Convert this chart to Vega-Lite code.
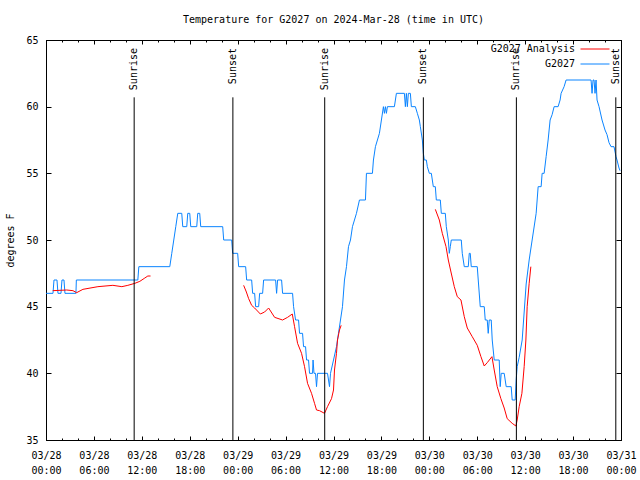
{
  "$schema": "https://vega.github.io/schema/vega-lite/v6.json",
  "width": 575,
  "height": 400,
  "autosize": {"type": "none"},
  "padding": {"left": 46, "top": 40, "right": 19, "bottom": 40},
  "background": "white",
  "config": {
    "font": "DejaVu Sans Mono",
    "view": {"stroke": "black", "strokeWidth": 1},
    "axis": {"domainColor": "black", "tickColor": "black", "labelColor": "black", "titleColor": "black", "grid": false, "labelFont": "DejaVu Sans Mono", "titleFont": "DejaVu Sans Mono", "labelFontSize": 10, "titleFontSize": 10, "titleFontWeight": "normal"},
    "legend": {"labelFont": "DejaVu Sans Mono", "labelFontSize": 10}
  },
  "title": {"text": "Temperature for G2027 on 2024-Mar-28 (time in UTC)", "font": "DejaVu Sans Mono", "fontSize": 10, "fontWeight": "normal", "anchor": "middle", "offset": 10, "color": "black"},
  "datasets": {
    "obs": [
      {"series": "G2027", "seg": "b", "h": 0, "temp": 46},
      {"series": "G2027", "seg": "b", "h": 0.875, "temp": 46},
      {"series": "G2027", "seg": "b", "h": 1, "temp": 47},
      {"series": "G2027", "seg": "b", "h": 1.375, "temp": 47},
      {"series": "G2027", "seg": "b", "h": 1.5, "temp": 46},
      {"series": "G2027", "seg": "b", "h": 1.875, "temp": 46},
      {"series": "G2027", "seg": "b", "h": 2, "temp": 47},
      {"series": "G2027", "seg": "b", "h": 2.25, "temp": 47},
      {"series": "G2027", "seg": "b", "h": 2.375, "temp": 46},
      {"series": "G2027", "seg": "b", "h": 3.75, "temp": 46},
      {"series": "G2027", "seg": "b", "h": 3.8, "temp": 47},
      {"series": "G2027", "seg": "b", "h": 11.5, "temp": 47},
      {"series": "G2027", "seg": "b", "h": 11.625, "temp": 48},
      {"series": "G2027", "seg": "b", "h": 15.5, "temp": 48},
      {"series": "G2027", "seg": "b", "h": 15.75, "temp": 49},
      {"series": "G2027", "seg": "b", "h": 16, "temp": 50},
      {"series": "G2027", "seg": "b", "h": 16.25, "temp": 51},
      {"series": "G2027", "seg": "b", "h": 16.5, "temp": 52},
      {"series": "G2027", "seg": "b", "h": 17, "temp": 52},
      {"series": "G2027", "seg": "b", "h": 17.125, "temp": 51},
      {"series": "G2027", "seg": "b", "h": 17.625, "temp": 51},
      {"series": "G2027", "seg": "b", "h": 17.75, "temp": 52},
      {"series": "G2027", "seg": "b", "h": 18, "temp": 52},
      {"series": "G2027", "seg": "b", "h": 18.125, "temp": 51},
      {"series": "G2027", "seg": "b", "h": 18.875, "temp": 51},
      {"series": "G2027", "seg": "b", "h": 19, "temp": 52},
      {"series": "G2027", "seg": "b", "h": 19.25, "temp": 52},
      {"series": "G2027", "seg": "b", "h": 19.375, "temp": 51},
      {"series": "G2027", "seg": "b", "h": 22.125, "temp": 51},
      {"series": "G2027", "seg": "b", "h": 22.25, "temp": 50},
      {"series": "G2027", "seg": "b", "h": 23.25, "temp": 50},
      {"series": "G2027", "seg": "b", "h": 23.375, "temp": 49},
      {"series": "G2027", "seg": "b", "h": 24, "temp": 49},
      {"series": "G2027", "seg": "b", "h": 24.125, "temp": 48},
      {"series": "G2027", "seg": "b", "h": 25, "temp": 48},
      {"series": "G2027", "seg": "b", "h": 25.125, "temp": 47},
      {"series": "G2027", "seg": "b", "h": 25.75, "temp": 47},
      {"series": "G2027", "seg": "b", "h": 25.875, "temp": 46},
      {"series": "G2027", "seg": "b", "h": 26.125, "temp": 46},
      {"series": "G2027", "seg": "b", "h": 26.25, "temp": 45},
      {"series": "G2027", "seg": "b", "h": 26.625, "temp": 45},
      {"series": "G2027", "seg": "b", "h": 26.75, "temp": 46},
      {"series": "G2027", "seg": "b", "h": 27.125, "temp": 46},
      {"series": "G2027", "seg": "b", "h": 27.25, "temp": 47},
      {"series": "G2027", "seg": "b", "h": 28.75, "temp": 47},
      {"series": "G2027", "seg": "b", "h": 28.875, "temp": 46},
      {"series": "G2027", "seg": "b", "h": 29, "temp": 47},
      {"series": "G2027", "seg": "b", "h": 29.5, "temp": 47},
      {"series": "G2027", "seg": "b", "h": 29.625, "temp": 46},
      {"series": "G2027", "seg": "b", "h": 30.875, "temp": 46},
      {"series": "G2027", "seg": "b", "h": 31, "temp": 45},
      {"series": "G2027", "seg": "b", "h": 31.25, "temp": 44},
      {"series": "G2027", "seg": "b", "h": 31.625, "temp": 44},
      {"series": "G2027", "seg": "b", "h": 31.75, "temp": 43},
      {"series": "G2027", "seg": "b", "h": 32.125, "temp": 43},
      {"series": "G2027", "seg": "b", "h": 32.25, "temp": 42},
      {"series": "G2027", "seg": "b", "h": 32.5, "temp": 42},
      {"series": "G2027", "seg": "b", "h": 32.625, "temp": 41},
      {"series": "G2027", "seg": "b", "h": 32.875, "temp": 41},
      {"series": "G2027", "seg": "b", "h": 33, "temp": 40},
      {"series": "G2027", "seg": "b", "h": 33.375, "temp": 40},
      {"series": "G2027", "seg": "b", "h": 33.44, "temp": 41},
      {"series": "G2027", "seg": "b", "h": 33.56, "temp": 40},
      {"series": "G2027", "seg": "b", "h": 33.75, "temp": 40},
      {"series": "G2027", "seg": "b", "h": 33.875, "temp": 39},
      {"series": "G2027", "seg": "b", "h": 34, "temp": 40},
      {"series": "G2027", "seg": "b", "h": 35.25, "temp": 40},
      {"series": "G2027", "seg": "b", "h": 35.5, "temp": 39},
      {"series": "G2027", "seg": "b", "h": 35.625, "temp": 40},
      {"series": "G2027", "seg": "b", "h": 36, "temp": 41},
      {"series": "G2027", "seg": "b", "h": 36.375, "temp": 42},
      {"series": "G2027", "seg": "b", "h": 36.625, "temp": 43},
      {"series": "G2027", "seg": "b", "h": 36.875, "temp": 44},
      {"series": "G2027", "seg": "b", "h": 37.125, "temp": 45},
      {"series": "G2027", "seg": "b", "h": 37.375, "temp": 47},
      {"series": "G2027", "seg": "b", "h": 37.625, "temp": 48},
      {"series": "G2027", "seg": "b", "h": 37.875, "temp": 49.5},
      {"series": "G2027", "seg": "b", "h": 38.125, "temp": 50},
      {"series": "G2027", "seg": "b", "h": 38.375, "temp": 51},
      {"series": "G2027", "seg": "b", "h": 38.625, "temp": 51.5},
      {"series": "G2027", "seg": "b", "h": 38.875, "temp": 52},
      {"series": "G2027", "seg": "b", "h": 39.25, "temp": 53},
      {"series": "G2027", "seg": "b", "h": 40, "temp": 53},
      {"series": "G2027", "seg": "b", "h": 40.125, "temp": 55},
      {"series": "G2027", "seg": "b", "h": 40.875, "temp": 55},
      {"series": "G2027", "seg": "b", "h": 41, "temp": 56},
      {"series": "G2027", "seg": "b", "h": 41.25, "temp": 57},
      {"series": "G2027", "seg": "b", "h": 41.5, "temp": 57.5},
      {"series": "G2027", "seg": "b", "h": 41.75, "temp": 58},
      {"series": "G2027", "seg": "b", "h": 42, "temp": 59},
      {"series": "G2027", "seg": "b", "h": 42.25, "temp": 60},
      {"series": "G2027", "seg": "b", "h": 42.375, "temp": 59.5},
      {"series": "G2027", "seg": "b", "h": 42.5, "temp": 60},
      {"series": "G2027", "seg": "b", "h": 42.625, "temp": 59.5},
      {"series": "G2027", "seg": "b", "h": 42.75, "temp": 60},
      {"series": "G2027", "seg": "b", "h": 43.625, "temp": 60},
      {"series": "G2027", "seg": "b", "h": 43.75, "temp": 60.5},
      {"series": "G2027", "seg": "b", "h": 43.875, "temp": 61},
      {"series": "G2027", "seg": "b", "h": 44.875, "temp": 61},
      {"series": "G2027", "seg": "b", "h": 45, "temp": 60},
      {"series": "G2027", "seg": "b", "h": 45.125, "temp": 61},
      {"series": "G2027", "seg": "b", "h": 45.25, "temp": 60},
      {"series": "G2027", "seg": "b", "h": 45.375, "temp": 61},
      {"series": "G2027", "seg": "b", "h": 45.625, "temp": 61},
      {"series": "G2027", "seg": "b", "h": 45.75, "temp": 60},
      {"series": "G2027", "seg": "b", "h": 46.25, "temp": 60},
      {"series": "G2027", "seg": "b", "h": 46.5, "temp": 59.5},
      {"series": "G2027", "seg": "b", "h": 46.75, "temp": 59},
      {"series": "G2027", "seg": "b", "h": 46.875, "temp": 58.5},
      {"series": "G2027", "seg": "b", "h": 47.125, "temp": 57.5},
      {"series": "G2027", "seg": "b", "h": 47.25, "temp": 56.5},
      {"series": "G2027", "seg": "b", "h": 47.375, "temp": 56},
      {"series": "G2027", "seg": "b", "h": 47.625, "temp": 56},
      {"series": "G2027", "seg": "b", "h": 47.75, "temp": 55.5},
      {"series": "G2027", "seg": "b", "h": 48, "temp": 55},
      {"series": "G2027", "seg": "b", "h": 48.25, "temp": 55},
      {"series": "G2027", "seg": "b", "h": 48.375, "temp": 54.5},
      {"series": "G2027", "seg": "b", "h": 48.5, "temp": 54},
      {"series": "G2027", "seg": "b", "h": 48.75, "temp": 54},
      {"series": "G2027", "seg": "b", "h": 48.875, "temp": 53},
      {"series": "G2027", "seg": "b", "h": 49.375, "temp": 53},
      {"series": "G2027", "seg": "b", "h": 49.5, "temp": 52},
      {"series": "G2027", "seg": "b", "h": 50, "temp": 52},
      {"series": "G2027", "seg": "b", "h": 50.125, "temp": 51},
      {"series": "G2027", "seg": "b", "h": 50.375, "temp": 50},
      {"series": "G2027", "seg": "b", "h": 50.5, "temp": 49},
      {"series": "G2027", "seg": "b", "h": 50.625, "temp": 49.5},
      {"series": "G2027", "seg": "b", "h": 50.75, "temp": 50},
      {"series": "G2027", "seg": "b", "h": 52, "temp": 50},
      {"series": "G2027", "seg": "b", "h": 52.125, "temp": 49},
      {"series": "G2027", "seg": "b", "h": 52.375, "temp": 48},
      {"series": "G2027", "seg": "b", "h": 52.875, "temp": 48},
      {"series": "G2027", "seg": "b", "h": 53, "temp": 49},
      {"series": "G2027", "seg": "b", "h": 53.125, "temp": 49},
      {"series": "G2027", "seg": "b", "h": 53.25, "temp": 48},
      {"series": "G2027", "seg": "b", "h": 54, "temp": 48},
      {"series": "G2027", "seg": "b", "h": 54.125, "temp": 47},
      {"series": "G2027", "seg": "b", "h": 54.375, "temp": 45},
      {"series": "G2027", "seg": "b", "h": 54.875, "temp": 45},
      {"series": "G2027", "seg": "b", "h": 55, "temp": 44},
      {"series": "G2027", "seg": "b", "h": 55.25, "temp": 44},
      {"series": "G2027", "seg": "b", "h": 55.375, "temp": 43},
      {"series": "G2027", "seg": "b", "h": 55.5, "temp": 44},
      {"series": "G2027", "seg": "b", "h": 55.75, "temp": 44},
      {"series": "G2027", "seg": "b", "h": 55.875, "temp": 42.5},
      {"series": "G2027", "seg": "b", "h": 56.125, "temp": 41},
      {"series": "G2027", "seg": "b", "h": 56.75, "temp": 41},
      {"series": "G2027", "seg": "b", "h": 56.875, "temp": 39},
      {"series": "G2027", "seg": "b", "h": 57, "temp": 40},
      {"series": "G2027", "seg": "b", "h": 57.375, "temp": 40},
      {"series": "G2027", "seg": "b", "h": 57.625, "temp": 39},
      {"series": "G2027", "seg": "b", "h": 58.25, "temp": 39},
      {"series": "G2027", "seg": "b", "h": 58.375, "temp": 38},
      {"series": "G2027", "seg": "b", "h": 58.75, "temp": 38},
      {"series": "G2027", "seg": "b", "h": 58.875, "temp": 39.5},
      {"series": "G2027", "seg": "b", "h": 59, "temp": 40.5},
      {"series": "G2027", "seg": "b", "h": 59.25, "temp": 41.2},
      {"series": "G2027", "seg": "b", "h": 59.625, "temp": 42.5},
      {"series": "G2027", "seg": "b", "h": 60.125, "temp": 46.7},
      {"series": "G2027", "seg": "b", "h": 60.5, "temp": 48.5},
      {"series": "G2027", "seg": "b", "h": 60.875, "temp": 50},
      {"series": "G2027", "seg": "b", "h": 61.375, "temp": 52},
      {"series": "G2027", "seg": "b", "h": 61.625, "temp": 54},
      {"series": "G2027", "seg": "b", "h": 62, "temp": 54},
      {"series": "G2027", "seg": "b", "h": 62.125, "temp": 55},
      {"series": "G2027", "seg": "b", "h": 62.375, "temp": 55},
      {"series": "G2027", "seg": "b", "h": 62.625, "temp": 56.25},
      {"series": "G2027", "seg": "b", "h": 62.875, "temp": 57.5},
      {"series": "G2027", "seg": "b", "h": 63.125, "temp": 59},
      {"series": "G2027", "seg": "b", "h": 63.375, "temp": 59.4},
      {"series": "G2027", "seg": "b", "h": 63.625, "temp": 60},
      {"series": "G2027", "seg": "b", "h": 64.125, "temp": 60},
      {"series": "G2027", "seg": "b", "h": 64.375, "temp": 60.5},
      {"series": "G2027", "seg": "b", "h": 64.5, "temp": 61},
      {"series": "G2027", "seg": "b", "h": 64.875, "temp": 61.5},
      {"series": "G2027", "seg": "b", "h": 65.125, "temp": 62},
      {"series": "G2027", "seg": "b", "h": 68.25, "temp": 62},
      {"series": "G2027", "seg": "b", "h": 68.375, "temp": 61},
      {"series": "G2027", "seg": "b", "h": 68.5, "temp": 62},
      {"series": "G2027", "seg": "b", "h": 68.625, "temp": 62},
      {"series": "G2027", "seg": "b", "h": 68.75, "temp": 61},
      {"series": "G2027", "seg": "b", "h": 68.875, "temp": 62},
      {"series": "G2027", "seg": "b", "h": 69, "temp": 60.5},
      {"series": "G2027", "seg": "b", "h": 69.25, "temp": 60},
      {"series": "G2027", "seg": "b", "h": 69.625, "temp": 59},
      {"series": "G2027", "seg": "b", "h": 70, "temp": 58.25},
      {"series": "G2027", "seg": "b", "h": 70.25, "temp": 57.9},
      {"series": "G2027", "seg": "b", "h": 70.5, "temp": 57.3},
      {"series": "G2027", "seg": "b", "h": 70.75, "temp": 57},
      {"series": "G2027", "seg": "b", "h": 71.125, "temp": 57},
      {"series": "G2027", "seg": "b", "h": 71.375, "temp": 56.25},
      {"series": "G2027", "seg": "b", "h": 71.5, "temp": 56},
      {"series": "G2027", "seg": "b", "h": 71.75, "temp": 55.4},
      {"series": "G2027", "seg": "b", "h": 71.875, "temp": 55.2},

      {"series": "G2027 Analysis", "seg": "r1", "h": 0.84, "temp": 46.2},
      {"series": "G2027 Analysis", "seg": "r1", "h": 2.59, "temp": 46.25},
      {"series": "G2027 Analysis", "seg": "r1", "h": 3.375, "temp": 46.2},
      {"series": "G2027 Analysis", "seg": "r1", "h": 3.84, "temp": 46.05},
      {"series": "G2027 Analysis", "seg": "r1", "h": 4.625, "temp": 46.3},
      {"series": "G2027 Analysis", "seg": "r1", "h": 6.5, "temp": 46.5},
      {"series": "G2027 Analysis", "seg": "r1", "h": 8.375, "temp": 46.6},
      {"series": "G2027 Analysis", "seg": "r1", "h": 9.5, "temp": 46.5},
      {"series": "G2027 Analysis", "seg": "r1", "h": 10.25, "temp": 46.6},
      {"series": "G2027 Analysis", "seg": "r1", "h": 11.125, "temp": 46.75},
      {"series": "G2027 Analysis", "seg": "r1", "h": 11.75, "temp": 46.9},
      {"series": "G2027 Analysis", "seg": "r1", "h": 12.375, "temp": 47.15},
      {"series": "G2027 Analysis", "seg": "r1", "h": 12.75, "temp": 47.3},
      {"series": "G2027 Analysis", "seg": "r1", "h": 13.09, "temp": 47.3},

      {"series": "G2027 Analysis", "seg": "r2", "h": 24.75, "temp": 46.6},
      {"series": "G2027 Analysis", "seg": "r2", "h": 25.09, "temp": 46.1},
      {"series": "G2027 Analysis", "seg": "r2", "h": 25.375, "temp": 45.6},
      {"series": "G2027 Analysis", "seg": "r2", "h": 25.75, "temp": 45.1},
      {"series": "G2027 Analysis", "seg": "r2", "h": 26.125, "temp": 44.9},
      {"series": "G2027 Analysis", "seg": "r2", "h": 26.84, "temp": 44.45},
      {"series": "G2027 Analysis", "seg": "r2", "h": 27.375, "temp": 44.6},
      {"series": "G2027 Analysis", "seg": "r2", "h": 27.875, "temp": 44.9},
      {"series": "G2027 Analysis", "seg": "r2", "h": 28.625, "temp": 44.2},
      {"series": "G2027 Analysis", "seg": "r2", "h": 29.625, "temp": 44},
      {"series": "G2027 Analysis", "seg": "r2", "h": 30.25, "temp": 44.2},
      {"series": "G2027 Analysis", "seg": "r2", "h": 30.84, "temp": 44.45},
      {"series": "G2027 Analysis", "seg": "r2", "h": 31.125, "temp": 43.5},
      {"series": "G2027 Analysis", "seg": "r2", "h": 31.5, "temp": 42.25},
      {"series": "G2027 Analysis", "seg": "r2", "h": 32, "temp": 41.5},
      {"series": "G2027 Analysis", "seg": "r2", "h": 32.375, "temp": 40.5},
      {"series": "G2027 Analysis", "seg": "r2", "h": 32.75, "temp": 39.25},
      {"series": "G2027 Analysis", "seg": "r2", "h": 33.25, "temp": 38.5},
      {"series": "G2027 Analysis", "seg": "r2", "h": 33.625, "temp": 37.75},
      {"series": "G2027 Analysis", "seg": "r2", "h": 33.875, "temp": 37.25},
      {"series": "G2027 Analysis", "seg": "r2", "h": 34.25, "temp": 37.2},
      {"series": "G2027 Analysis", "seg": "r2", "h": 34.875, "temp": 37},
      {"series": "G2027 Analysis", "seg": "r2", "h": 35.25, "temp": 37.5},
      {"series": "G2027 Analysis", "seg": "r2", "h": 35.75, "temp": 38.1},
      {"series": "G2027 Analysis", "seg": "r2", "h": 36, "temp": 38.75},
      {"series": "G2027 Analysis", "seg": "r2", "h": 36.125, "temp": 40.25},
      {"series": "G2027 Analysis", "seg": "r2", "h": 36.375, "temp": 41.5},
      {"series": "G2027 Analysis", "seg": "r2", "h": 36.5, "temp": 42.5},
      {"series": "G2027 Analysis", "seg": "r2", "h": 36.75, "temp": 43.25},
      {"series": "G2027 Analysis", "seg": "r2", "h": 36.96, "temp": 43.6},

      {"series": "G2027 Analysis", "seg": "r3", "h": 48.75, "temp": 52.3},
      {"series": "G2027 Analysis", "seg": "r3", "h": 49.25, "temp": 51.5},
      {"series": "G2027 Analysis", "seg": "r3", "h": 49.625, "temp": 50.5},
      {"series": "G2027 Analysis", "seg": "r3", "h": 50.09, "temp": 49.5},
      {"series": "G2027 Analysis", "seg": "r3", "h": 50.375, "temp": 48.5},
      {"series": "G2027 Analysis", "seg": "r3", "h": 50.71, "temp": 47.6},
      {"series": "G2027 Analysis", "seg": "r3", "h": 51.125, "temp": 46.5},
      {"series": "G2027 Analysis", "seg": "r3", "h": 51.5, "temp": 45.75},
      {"series": "G2027 Analysis", "seg": "r3", "h": 51.96, "temp": 45.5},
      {"series": "G2027 Analysis", "seg": "r3", "h": 52.375, "temp": 44.25},
      {"series": "G2027 Analysis", "seg": "r3", "h": 52.75, "temp": 43.4},
      {"series": "G2027 Analysis", "seg": "r3", "h": 53.375, "temp": 42.75},
      {"series": "G2027 Analysis", "seg": "r3", "h": 54, "temp": 42.1},
      {"series": "G2027 Analysis", "seg": "r3", "h": 54.46, "temp": 41.25},
      {"series": "G2027 Analysis", "seg": "r3", "h": 54.875, "temp": 40.55},
      {"series": "G2027 Analysis", "seg": "r3", "h": 55.25, "temp": 40.8},
      {"series": "G2027 Analysis", "seg": "r3", "h": 55.84, "temp": 41.25},
      {"series": "G2027 Analysis", "seg": "r3", "h": 56.125, "temp": 40.25},
      {"series": "G2027 Analysis", "seg": "r3", "h": 56.5, "temp": 39},
      {"series": "G2027 Analysis", "seg": "r3", "h": 56.96, "temp": 38.1},
      {"series": "G2027 Analysis", "seg": "r3", "h": 57.375, "temp": 37.4},
      {"series": "G2027 Analysis", "seg": "r3", "h": 57.75, "temp": 36.6},
      {"series": "G2027 Analysis", "seg": "r3", "h": 58.375, "temp": 36.25},
      {"series": "G2027 Analysis", "seg": "r3", "h": 58.84, "temp": 36.05},
      {"series": "G2027 Analysis", "seg": "r3", "h": 59, "temp": 36.5},
      {"series": "G2027 Analysis", "seg": "r3", "h": 59.25, "temp": 37.5},
      {"series": "G2027 Analysis", "seg": "r3", "h": 59.59, "temp": 38.5},
      {"series": "G2027 Analysis", "seg": "r3", "h": 59.875, "temp": 40.5},
      {"series": "G2027 Analysis", "seg": "r3", "h": 60.09, "temp": 42.5},
      {"series": "G2027 Analysis", "seg": "r3", "h": 60.25, "temp": 45},
      {"series": "G2027 Analysis", "seg": "r3", "h": 60.5, "temp": 46.75},
      {"series": "G2027 Analysis", "seg": "r3", "h": 60.71, "temp": 48}
    ],
    "events": [
      {"h": 11.04, "event": "Sunrise"},
      {"h": 23.4, "event": "Sunset"},
      {"h": 34.9, "event": "Sunrise"},
      {"h": 47.25, "event": "Sunset"},
      {"h": 58.9, "event": "Sunrise"},
      {"h": 71.35, "event": "Sunset"}
    ]
  },
  "layer": [
    {
      "data": {"name": "obs"},
      "mark": {"type": "line", "strokeWidth": 1, "clip": true},
      "encoding": {
        "x": {
          "field": "h", "type": "quantitative",
          "scale": {"domain": [0, 72], "nice": false, "zero": false},
          "axis": {
            "orient": "bottom", "title": null,
            "values": [0, 2, 4, 6, 8, 10, 12, 14, 16, 18, 20, 22, 24, 26, 28, 30, 32, 34, 36, 38, 40, 42, 44, 46, 48, 50, 52, 54, 56, 58, 60, 62, 64, 66, 68, 70, 72],
            "tickSize": {"condition": {"test": "datum.value % 6 === 0", "value": -4}, "value": -2},
            "labelExpr": "datum.value % 6 === 0 ? ['03/' + (28 + floor(datum.value / 24)), (datum.value % 24 < 10 ? '0' : '') + (datum.value % 24) + ':00'] : ''",
            "labelPadding": 14, "labelBaseline": "top", "labelLineHeight": 15,
            "labelOverlap": false, "labelFlush": false, "labelBound": false
          }
        },
        "y": {
          "field": "temp", "type": "quantitative",
          "scale": {"domain": [35, 65], "nice": false, "zero": false},
          "axis": {
            "orient": "left", "title": "degrees F", "titlePadding": 10,
            "values": [35, 40, 45, 50, 55, 60, 65],
            "tickSize": -5, "labelPadding": 13
          }
        },
        "color": {
          "field": "series", "type": "nominal",
          "scale": {"domain": ["G2027 Analysis", "G2027"], "range": ["#ff0000", "#0a84ff"]},
          "legend": {
            "title": null, "orient": "none", "legendX": 541, "legendY": 1,
            "symbolType": "M-2,0H2", "symbolSize": 210, "symbolStrokeWidth": 1,
            "labelAlign": "right", "labelOffset": -28, "padding": 0, "rowPadding": 2,
            "labelFontSize": 10, "labelColor": "black"
          }
        },
        "detail": {"field": "seg"}
      }
    },
    {
      "data": {"name": "events"},
      "mark": {"type": "rule", "color": "black", "strokeWidth": 1},
      "encoding": {
        "x": {
          "field": "h", "type": "quantitative",
          "axis": {
            "orient": "top", "title": null, "labels": false,
            "values": [0, 2, 4, 6, 8, 10, 12, 14, 16, 18, 20, 22, 24, 26, 28, 30, 32, 34, 36, 38, 40, 42, 44, 46, 48, 50, 52, 54, 56, 58, 60, 62, 64, 66, 68, 70, 72],
            "tickSize": {"condition": {"test": "datum.value % 6 === 0", "value": -4}, "value": -2}
          }
        },
        "y": {
          "datum": 60.7, "type": "quantitative",
          "axis": {"orient": "right", "title": null, "labels": false, "values": [35, 40, 45, 50, 55, 60, 65], "tickSize": -5}
        },
        "y2": {"datum": 35}
      }
    },
    {
      "data": {"name": "events"},
      "mark": {"type": "text", "angle": 270, "align": "right", "baseline": "middle", "font": "DejaVu Sans Mono", "fontSize": 10, "color": "black"},
      "encoding": {
        "x": {"field": "h", "type": "quantitative", "axis": null},
        "y": {"datum": 64.4, "type": "quantitative", "axis": null},
        "text": {"field": "event"}
      }
    }
  ],
  "resolve": {"axis": {"x": "independent", "y": "independent"}}
}
